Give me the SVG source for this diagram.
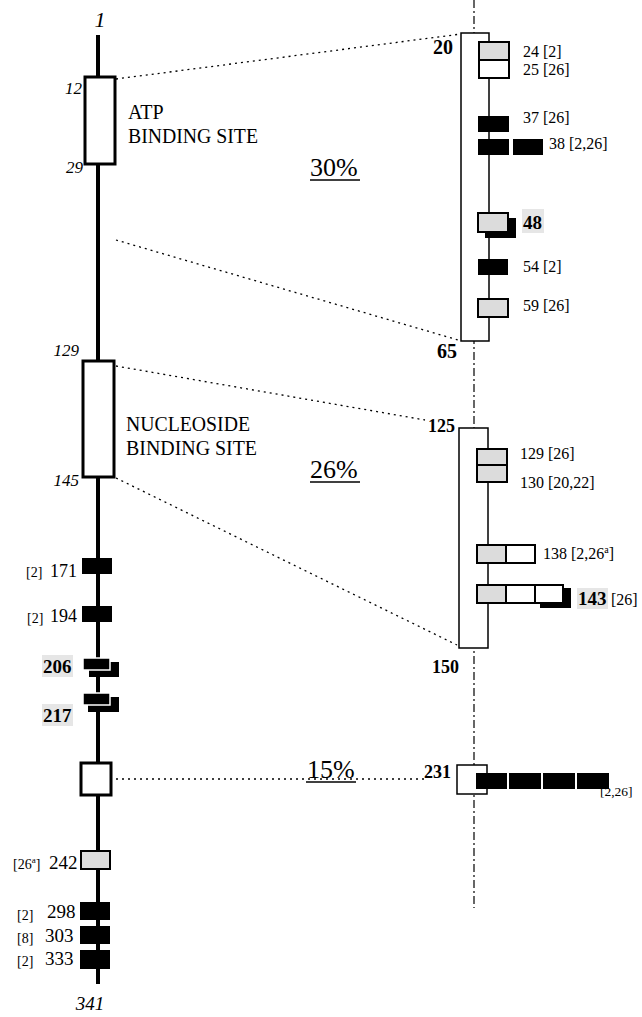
<svg xmlns="http://www.w3.org/2000/svg" width="642" height="1017" viewBox="0 0 642 1017">
<style>
text{font-family:"Liberation Serif","Times New Roman",serif;fill:#000}
.it{font-style:italic}
.b{font-weight:bold}
.lbl{font-size:16px}
.dot{stroke:#000;stroke-width:1.3;stroke-dasharray:2 4;fill:none}
.dd{stroke:#000;stroke-width:1.2;stroke-dasharray:8 3 2 3;fill:none}
.blk{fill:#000;stroke:none}
.gry{fill:#dcdcdc;stroke:#000;stroke-width:2}
.wht{fill:#fff;stroke:#000;stroke-width:2}
.pan{fill:#fff;stroke:#000;stroke-width:1.5}
.halo{fill:#e6e6e6}
.pc{font-size:26px}
</style>
<g id="connectors">
<line class="dd" x1="474" y1="0" x2="474" y2="908"/>
<line class="dot" x1="116" y1="79" x2="461" y2="34"/>
<line class="dot" x1="116" y1="240" x2="458" y2="340"/>
<line class="dot" x1="116" y1="366" x2="425" y2="420"/>
<line class="dot" x1="116" y1="478" x2="457" y2="645"/>
<line class="dot" x1="116" y1="779" x2="424" y2="779"/>
</g>
<g id="main-chain">
<line x1="98" y1="35" x2="98" y2="984" stroke="#000" stroke-width="4"/>
<text class="it" x="100" y="27" font-size="22" text-anchor="middle">1</text>
<text class="it" x="90" y="1010" font-size="19" text-anchor="middle">341</text>
</g>
<g id="atp-site">
<rect x="85" y="77" width="30" height="87" fill="#fff" stroke="#000" stroke-width="3"/>
<text class="it" x="82" y="94" font-size="17" text-anchor="end">12</text>
<text class="it" x="83" y="173" font-size="17" text-anchor="end">29</text>
<text x="128" y="119" font-size="20">ATP</text>
<text x="128" y="143" font-size="20" textLength="130" lengthAdjust="spacingAndGlyphs">BINDING SITE</text>
</g>
<g id="nucleoside-site">
<rect x="83" y="361" width="31" height="116" fill="#fff" stroke="#000" stroke-width="3"/>
<text class="it" x="79" y="356" font-size="17" text-anchor="end">129</text>
<text class="it" x="79" y="486" font-size="17" text-anchor="end">145</text>
<text x="126" y="431" font-size="20" textLength="124" lengthAdjust="spacingAndGlyphs">NUCLEOSIDE</text>
<text x="126" y="455" font-size="20" textLength="131" lengthAdjust="spacingAndGlyphs">BINDING SITE</text>
</g>
<g id="pct-30"><text class="pc" x="310" y="176">30%</text><line x1="310" y1="180" x2="360" y2="180" stroke="#000" stroke-width="1.5"/></g>
<g id="pct-26"><text class="pc" x="310" y="478">26%</text><line x1="310" y1="482" x2="360" y2="482" stroke="#000" stroke-width="1.5"/></g>
<g id="pct-15"><text class="pc" x="307" y="778">15%</text><line x1="306" y1="782" x2="356" y2="782" stroke="#000" stroke-width="1.5"/></g>
<g id="m171"><rect class="blk" x="82" y="558" width="30" height="16"/><text x="26" y="577" font-size="14">[2]</text><text x="50" y="577" font-size="18">171</text></g>
<g id="m194"><rect class="blk" x="82" y="606" width="30" height="16"/><text x="27" y="623" font-size="14">[2]</text><text x="50" y="622" font-size="18">194</text></g>
<g id="m206"><rect class="blk" x="89" y="662" width="30" height="15"/><rect x="83" y="658" width="27" height="12" fill="#000" stroke="#fff" stroke-width="1.5"/><rect class="halo" x="42" y="655" width="31" height="22"/><text class="b" x="43" y="673" font-size="19">206</text></g>
<g id="m217"><rect class="blk" x="88" y="697" width="31" height="15"/><rect x="83" y="693" width="27" height="12" fill="#000" stroke="#fff" stroke-width="1.5"/><rect class="halo" x="42" y="704" width="31" height="22"/><text class="b" x="43" y="722" font-size="19">217</text></g>
<g id="m231-left"><rect x="81" y="763" width="30" height="32" fill="#fff" stroke="#000" stroke-width="3"/></g>
<g id="m242"><rect class="gry" x="81" y="851" width="29" height="18" stroke-width="1.5"/><text x="13" y="869" font-size="14">[26<tspan font-size="9" dy="-6">a</tspan><tspan dy="6">]</tspan></text><text x="49" y="869" font-size="19">242</text></g>
<g id="m298"><rect class="blk" x="80" y="902" width="30" height="18"/><text x="17" y="920" font-size="14">[2]</text><text x="47" y="918" font-size="19">298</text></g>
<g id="m303"><rect class="blk" x="80" y="926" width="30" height="18"/><text x="17" y="943" font-size="14">[8]</text><text x="45" y="942" font-size="19">303</text></g>
<g id="m333"><rect class="blk" x="80" y="950" width="30" height="19"/><text x="17" y="966" font-size="14">[2]</text><text x="45" y="965" font-size="19">333</text></g>
<g id="panel-20-65">
<rect class="pan" x="461" y="33" width="28" height="308"/>
<text class="b" x="433" y="54" font-size="20">20</text>
<text class="b" x="437" y="358" font-size="20">65</text>
<rect class="gry" x="479" y="42" width="30" height="18"/>
<rect class="wht" x="479" y="60" width="30" height="18" fill="#f4f4f4"/>
<text class="lbl" x="523" y="57">24 [2]</text>
<text class="lbl" x="523" y="75">25 [26]</text>
<rect class="blk" x="478" y="116" width="31" height="16"/>
<text class="lbl" x="523" y="123">37 [26]</text>
<rect class="blk" x="478" y="139" width="31" height="16"/>
<rect class="blk" x="513" y="139" width="30" height="16"/>
<text class="lbl" x="549" y="149">38 [2,26]</text>
<rect class="blk" x="485" y="218" width="31" height="20"/>
<rect class="gry" x="478" y="213" width="30" height="19"/>
<rect class="halo" x="522" y="209" width="22" height="24"/>
<text class="b" x="523" y="229" font-size="19">48</text>
<rect class="blk" x="478" y="259" width="30" height="16"/>
<text class="lbl" x="523" y="272">54 [2]</text>
<rect class="gry" x="478" y="299" width="30" height="18"/>
<text class="lbl" x="523" y="311">59 [26]</text>
</g>
<g id="panel-125-150">
<rect class="pan" x="459" y="428" width="29" height="220"/>
<text class="b" x="428" y="432" font-size="18">125</text>
<text class="b" x="432" y="673" font-size="18">150</text>
<rect class="gry" x="477" y="449" width="30" height="16"/>
<rect class="gry" x="477" y="465" width="30" height="17"/>
<text class="lbl" x="520" y="459">129 [26]</text>
<text class="lbl" x="520" y="488">130 [20,22]</text>
<rect class="gry" x="477" y="545" width="29" height="18"/>
<rect class="wht" x="506" y="545" width="29" height="18"/>
<text class="lbl" x="543" y="559">138 [2,26<tspan font-size="10" dy="-6">a</tspan><tspan dy="6">]</tspan></text>
<rect class="blk" x="540" y="588" width="31" height="20"/>
<rect class="gry" x="477" y="585" width="29" height="18"/>
<rect class="wht" x="506" y="585" width="29" height="18"/>
<rect class="wht" x="535" y="585" width="28" height="18" fill="#eeeeee"/>
<rect class="halo" x="577" y="588" width="31" height="21"/>
<text class="b" x="578" y="605" font-size="19">143</text>
<text class="lbl" x="611" y="605">[26]</text>
</g>
<g id="panel-231">
<rect class="pan" x="457" y="765" width="30" height="29"/>
<text class="b" x="424" y="778" font-size="18">231</text>
<rect class="blk" x="476" y="773" width="31" height="16"/>
<rect class="blk" x="509" y="773" width="32" height="16"/>
<rect class="blk" x="543" y="773" width="32" height="16"/>
<rect class="blk" x="577" y="773" width="32" height="16"/>
<text x="600" y="796" font-size="13.5">[2,26]</text>
</g>
</svg>
